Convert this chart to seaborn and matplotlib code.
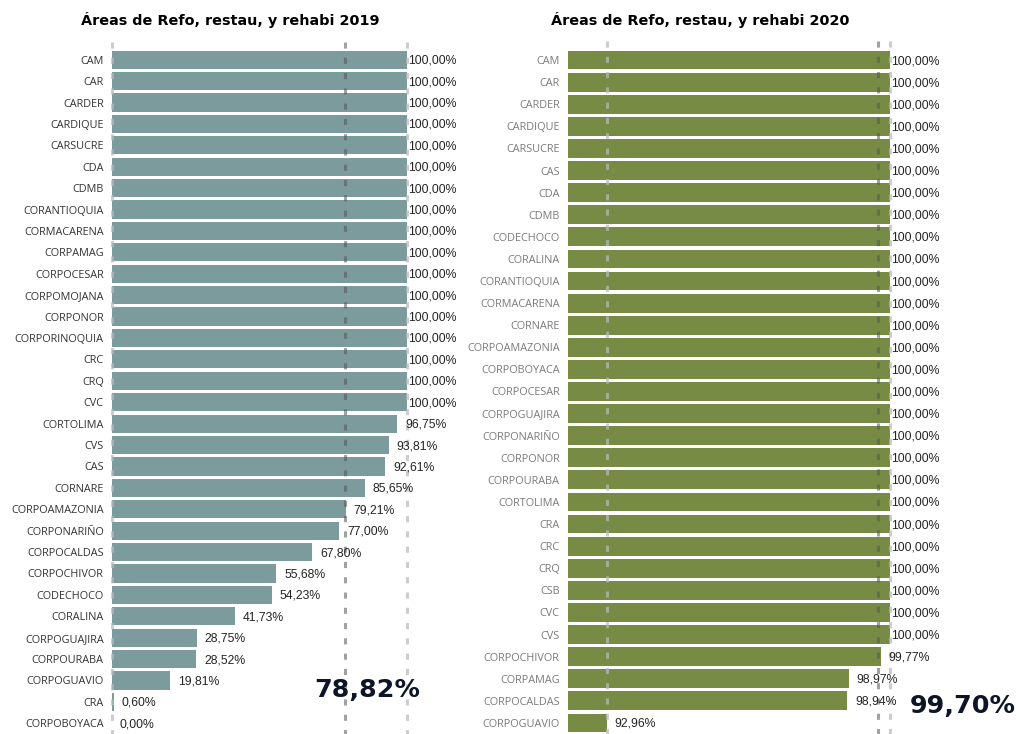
import matplotlib
matplotlib.use('Agg')
import matplotlib.pyplot as plt
import seaborn as sns

# 2019 data
names_2019 = ['CAM', 'CAR', 'CARDER', 'CARDIQUE', 'CARSUCRE', 'CDA', 'CDMB', 'CORANTIOQUIA',
              'CORMACARENA', 'CORPAMAG', 'CORPOCESAR', 'CORPOMOJANA', 'CORPONOR', 'CORPORINOQUIA',
              'CRC', 'CRQ', 'CVC', 'CORTOLIMA', 'CVS', 'CAS', 'CORNARE', 'CORPOAMAZONIA',
              'CORPONARIÑO', 'CORPOCALDAS', 'CORPOCHIVOR', 'CODECHOCO', 'CORALINA', 'CORPOGUAJIRA',
              'CORPOURABA', 'CORPOGUAVIO', 'CRA', 'CORPOBOYACA']
values_2019 = [100, 100, 100, 100, 100, 100, 100, 100, 100, 100, 100, 100, 100, 100,
               100, 100, 100, 96.75, 93.81, 92.61, 85.65, 79.21, 77.00, 67.80, 55.68, 54.23,
               41.73, 28.75, 28.52, 19.81, 0.60, 0.00]
avg_2019 = 78.82

# 2020 data
names_2020 = ['CAM', 'CAR', 'CARDER', 'CARDIQUE', 'CARSUCRE', 'CAS', 'CDA', 'CDMB', 'CODECHOCO',
              'CORALINA', 'CORANTIOQUIA', 'CORMACARENA', 'CORNARE', 'CORPOAMAZONIA', 'CORPOBOYACA',
              'CORPOCESAR', 'CORPOGUAJIRA', 'CORPONARIÑO', 'CORPONOR', 'CORPOURABA', 'CORTOLIMA',
              'CRA', 'CRC', 'CRQ', 'CSB', 'CVC', 'CVS', 'CORPOCHIVOR', 'CORPAMAG', 'CORPOCALDAS',
              'CORPOGUAVIO']
values_2020 = [100] * 27 + [99.77, 98.97, 98.94, 92.96]
avg_2020 = 99.70

sns.set_style('white')
plt.rcParams['font.family'] = ['Open Sans', 'DejaVu Sans']

fig = plt.figure(figsize=(10.19, 7.34), dpi=100)
ax1 = fig.add_axes([112 / 1019, 0.0, 295 / 1019, 1 - 49 / 734])
ax2 = fig.add_axes([568 / 1019, 0.0, 322 / 1019, 1 - 49 / 734])


def fmt(v):
    return f'{v:.2f}%'.replace('.', ',')


def draw(ax, names, values, avg, color, label_color, xmin, title, title_x, big, big_xy):
    sns.barplot(x=values, y=names, ax=ax, color=color, saturation=1, width=0.85,
                orient='h', edgecolor='none')
    ax.set_xlim(xmin, 100)
    ax.set_ylim(len(names) - 0.5, -0.5)
    for s in ax.spines.values():
        s.set_visible(False)
    ax.set_xticks([])
    ax.set_xlabel('')
    ax.set_ylabel('')
    ax.tick_params(axis='y', length=0, pad=6, labelsize=7.8, labelcolor=label_color)

    # min / average / max reference lines
    lo, hi = min(values), max(values)
    for xv, c, a in [(lo, '#b9b9b9', 0.7), (avg, '#555555', 0.55), (hi, '#b9b9b9', 0.7)]:
        ax.plot([xv, xv], [-0.85, len(names)], ls=(0, (2, 3)), lw=2.2, color=c,
                alpha=a, zorder=5, clip_on=False)

    for i, v in enumerate(values):
        off = 1 if v >= 100 else 8
        ax.annotate(fmt(v), (max(v, xmin), i), xytext=(off, -1), textcoords='offset pixels',
                    ha='left', va='center', fontsize=8.8, color='#252423',
                    family=['Liberation Sans', 'DejaVu Sans'], zorder=6)

    fig.text(title_x, 1 - 20 / 734, title, ha='center', va='center', fontsize=10.4,
             fontweight='bold', family=['DejaVu Sans'], color='#000000')
    fig.text(big_xy[0] / 1019, 1 - big_xy[1] / 734, big, ha='center', va='center',
             fontsize=18.3, fontweight='bold', family=['DejaVu Sans'],
             color='#0d1526')


draw(ax1, names_2019, values_2019, avg_2019, '#7b9b9c', '#333333', 0,
     'Áreas de Refo, restau, y rehabi 2019', 230 / 1019, fmt(avg_2019), (367, 690))
draw(ax2, names_2020, values_2020, avg_2020, '#778b45', '#7a7a7a', 92,
     'Áreas de Refo, restau, y rehabi 2020', 700 / 1019, fmt(avg_2020), (963, 706))

fig.savefig('out.png', dpi=100)
